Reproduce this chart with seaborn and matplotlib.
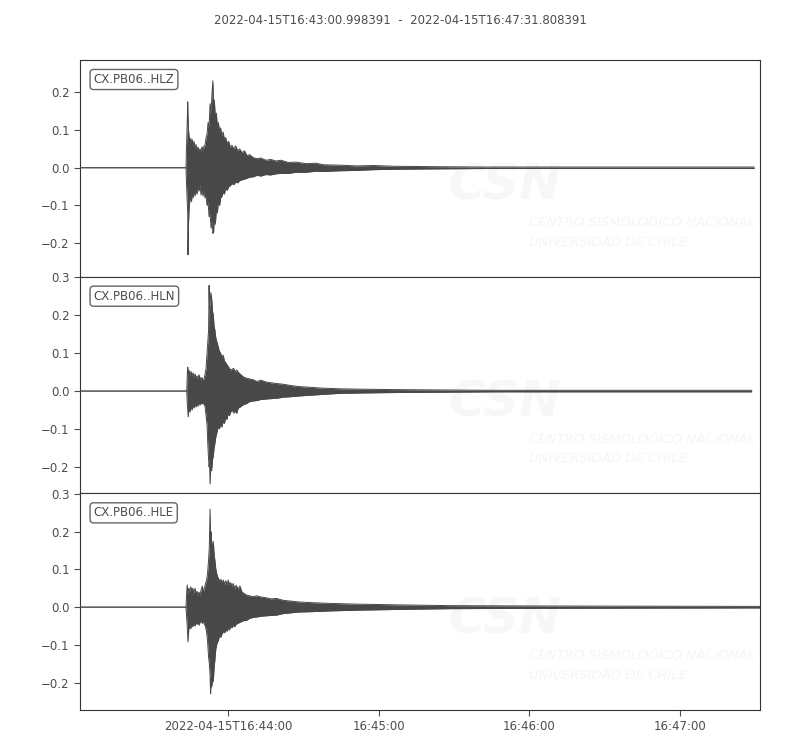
import pandas as pd
import matplotlib
matplotlib.use("Agg")
import matplotlib.pyplot as plt
import matplotlib.dates as mdates
from matplotlib.ticker import MultipleLocator, FuncFormatter
import seaborn as sns

# time window of the record
start_time = "2022-04-15T16:43:00.998391"
end_time = "2022-04-15T16:47:31.808391"
channels = ["CX.PB06..HLZ", "CX.PB06..HLN", "CX.PB06..HLE"]

# envelope of each trace: seconds after start, upper / lower amplitude
hlz_t = [0, 42.2, 42.4, 42.7, 42.9, 43.0, 43.2, 43.5, 43.8, 44.1, 44.4, 44.7, 45.0, 45.4,
         45.8, 46.2, 46.6, 47.0, 47.4, 47.8, 48.2, 48.6, 49.0, 49.4, 49.8, 50.2, 50.6, 51.0,
         51.4, 51.8, 52.2, 52.6, 52.9, 53.2, 53.5, 53.9, 54.3, 54.7, 55.1, 55.6, 56.0, 56.5,
         57.0, 57.5, 58.0, 58.6, 59.2, 59.8, 60.5, 61.2, 62.0, 62.8, 63.6, 64.5, 65.5, 66.5,
         67.5, 69, 70.5, 72, 74, 76, 78, 80, 83, 86, 90, 94, 97, 103, 110, 117, 125, 140,
         160, 268.5]
hlz_up = [0, 0, 0.05, 0.12, 0.175, 0.14, 0.10, 0.08, 0.065, 0.078, 0.06, 0.075, 0.058, 0.07,
          0.05, 0.062, 0.045, 0.055, 0.045, 0.05, 0.042, 0.056, 0.045, 0.058, 0.06, 0.08, 0.09, 0.12,
          0.11, 0.17, 0.15, 0.20, 0.231, 0.16, 0.18, 0.13, 0.145, 0.11, 0.12, 0.095, 0.106, 0.085,
          0.095, 0.075, 0.08, 0.065, 0.07, 0.055, 0.06, 0.05, 0.058, 0.045, 0.05, 0.04, 0.045, 0.032,
          0.035, 0.027, 0.024, 0.026, 0.02, 0.022, 0.018, 0.02, 0.014, 0.015, 0.011, 0.012, 0.008,
          0.007, 0.005, 0.006, 0.004, 0.003, 0.002, 0.002]
hlz_lo = [0, 0, -0.04, -0.09, -0.12, -0.231, -0.15, -0.10, -0.085, -0.07, -0.09, -0.065, -0.08, -0.06,
          -0.075, -0.058, -0.07, -0.05, -0.062, -0.045, -0.072, -0.055, -0.075, -0.06, -0.08, -0.075, -0.10, -0.09,
          -0.13, -0.12, -0.16, -0.14, -0.174, -0.17, -0.13, -0.15, -0.11, -0.12, -0.09, -0.10, -0.08, -0.076,
          -0.065, -0.07, -0.055, -0.06, -0.05, -0.048, -0.042, -0.045, -0.038, -0.04, -0.034, -0.032, -0.03, -0.028,
          -0.025, -0.024, -0.02, -0.022, -0.018, -0.019, -0.016, -0.015, -0.015, -0.012, -0.012, -0.009, -0.01,
          -0.008, -0.007, -0.005, -0.004, -0.003, -0.002, -0.002]

hln_t = [0, 42.5, 42.7, 42.9, 43.1, 43.4, 43.8, 44.2, 44.6, 45.0, 45.4, 45.8, 46.2, 46.6,
         47.0, 47.4, 47.8, 48.2, 48.6, 49.0, 49.4, 49.8, 50.2, 50.6, 50.9, 51.2, 51.4, 51.6,
         51.8, 52.1, 52.4, 52.8, 53.1, 53.4, 53.7, 54.1, 54.5, 55.0, 55.5, 56.0, 56.5, 57.0,
         57.5, 58.0, 58.5, 59.0, 59.5, 60.0, 60.6, 61.2, 61.8, 62.4, 63.0, 63.8, 64.6, 65.4,
         66.3, 67.5, 69, 70.5, 72, 74, 76, 78.3, 81, 83.6, 87, 91.6, 96, 103.5, 112, 123.4,
         143.3, 165, 267.5]
hln_up = [0, 0, 0.04, 0.063, 0.045, 0.055, 0.04, 0.052, 0.042, 0.048, 0.036, 0.045, 0.034, 0.04,
          0.032, 0.043, 0.035, 0.03, 0.036, 0.028, 0.032, 0.045, 0.06, 0.10, 0.13, 0.16, 0.279, 0.22,
          0.23, 0.26, 0.247, 0.21, 0.20, 0.17, 0.162, 0.14, 0.13, 0.118, 0.105, 0.10, 0.09, 0.095,
          0.08, 0.075, 0.07, 0.065, 0.06, 0.055, 0.058, 0.06, 0.05, 0.056, 0.05, 0.045, 0.04, 0.036,
          0.034, 0.032, 0.03, 0.025, 0.029, 0.024, 0.022, 0.02, 0.018, 0.015, 0.012, 0.01, 0.008, 0.006,
          0.005, 0.004, 0.003, 0.002, 0.002]
hln_lo = [0, 0, -0.03, -0.05, -0.068, -0.045, -0.055, -0.04, -0.05, -0.038, -0.045, -0.035, -0.042, -0.033,
          -0.04, -0.03, -0.037, -0.03, -0.034, -0.03, -0.035, -0.04, -0.065, -0.09, -0.14, -0.18, -0.20, -0.19,
          -0.245, -0.20, -0.21, -0.18, -0.17, -0.15, -0.139, -0.12, -0.11, -0.095, -0.10, -0.088, -0.095, -0.08,
          -0.086, -0.07, -0.075, -0.06, -0.065, -0.055, -0.05, -0.058, -0.052, -0.059, -0.045, -0.042, -0.038, -0.035,
          -0.033, -0.028, -0.026, -0.025, -0.022, -0.021, -0.02, -0.019, -0.016, -0.015, -0.013, -0.011, -0.009, -0.006,
          -0.005, -0.004, -0.003, -0.002, -0.002]

hle_t = [0, 42.2, 42.5, 42.7, 43.0, 43.3, 43.7, 44.1, 44.5, 44.9, 45.3, 45.8, 46.2, 46.6,
         47.0, 47.4, 47.8, 48.2, 48.7, 49.1, 49.5, 49.9, 50.4, 50.8, 51.2, 51.5, 51.8, 52.0,
         52.2, 52.4, 52.7, 53.1, 53.4, 53.7, 54.1, 54.6, 55.1, 55.6, 56.1, 56.6, 57.1, 57.6,
         58.1, 58.6, 59.0, 59.5, 60.0, 60.5, 61.0, 61.6, 62.2, 62.9, 63.7, 64.5, 65.4, 66.3,
         67.5, 69, 70.5, 72, 74, 76, 78.3, 81, 84, 86.9, 92, 99.5, 110, 127.4, 147.3, 187, 270.81]
hle_up = [0, 0, 0.04, 0.059, 0.035, 0.05, 0.042, 0.054, 0.045, 0.05, 0.038, 0.05, 0.036, 0.042,
          0.032, 0.04, 0.032, 0.045, 0.056, 0.04, 0.05, 0.06, 0.072, 0.09, 0.125, 0.16, 0.26, 0.18,
          0.20, 0.178, 0.15, 0.174, 0.14, 0.125, 0.10, 0.085, 0.076, 0.07, 0.074, 0.065, 0.072, 0.06,
          0.07, 0.058, 0.072, 0.06, 0.065, 0.055, 0.063, 0.05, 0.058, 0.048, 0.056, 0.04, 0.036, 0.032,
          0.03, 0.028, 0.03, 0.027, 0.025, 0.022, 0.023, 0.018, 0.016, 0.014, 0.012, 0.01, 0.008, 0.006,
          0.004, 0.003, 0.002]
hle_lo = [0, 0, -0.03, -0.05, -0.092, -0.06, -0.05, -0.057, -0.045, -0.052, -0.044, -0.05, -0.04, -0.046,
          -0.038, -0.048, -0.04, -0.036, -0.043, -0.038, -0.045, -0.05, -0.066, -0.09, -0.132, -0.15, -0.18, -0.23,
          -0.19, -0.212, -0.20, -0.194, -0.16, -0.141, -0.11, -0.095, -0.088, -0.075, -0.08, -0.07, -0.065, -0.068,
          -0.06, -0.064, -0.055, -0.061, -0.05, -0.055, -0.048, -0.052, -0.045, -0.043, -0.04, -0.038, -0.035, -0.035,
          -0.03, -0.027, -0.026, -0.024, -0.023, -0.022, -0.021, -0.017, -0.015, -0.013, -0.012, -0.01, -0.008, -0.006,
          -0.004, -0.003, -0.002]

ylims = [(-0.289, 0.286), (-0.270, 0.302), (-0.273, 0.302)]

traces = [(hlz_t, hlz_up, hlz_lo), (hln_t, hln_up, hln_lo), (hle_t, hle_up, hle_lo)]

sns.set_style("ticks")
plt.rcParams['font.family'] = ['DejaVu Sans']
text_col = "#4d4d4d"
wave_col = "#484848"

t0 = pd.Timestamp(start_time)
t1 = pd.Timestamp(end_time)

fig, axes = plt.subplots(3, 1, figsize=(8, 7.5), dpi=100, sharex=True)
fig.subplots_adjust(left=0.1, right=0.95, top=0.92, bottom=0.0533, hspace=0)

for ax, name, (tt, up, lo), yl in zip(axes, channels, traces, ylims):
    df = pd.DataFrame({"time": t0 + pd.to_timedelta(tt, unit="s"), "upper": up, "lower": lo})

    # faint CSN watermark
    ax.text(0.625, 0.42, "CSN", transform=ax.transAxes, fontsize=36, fontweight="bold",
            fontstyle="italic", color="#f7f7f7", ha="center", va="center", zorder=0)
    ax.text(0.66, 0.25, "CENTRO SISMOLÓGICO NACIONAL", transform=ax.transAxes, fontsize=9.5,
            fontstyle="italic", color="#f5f5f5", ha="left", va="center", zorder=0)
    ax.text(0.66, 0.16, "UNIVERSIDAD DE CHILE", transform=ax.transAxes, fontsize=9.5,
            fontstyle="italic", color="#f5f5f5", ha="left", va="center", zorder=0)

    ax.fill_between(df["time"], df["lower"], df["upper"], color=wave_col, linewidth=0, zorder=2)
    sns.lineplot(data=df, x="time", y="upper", ax=ax, color=wave_col, linewidth=0.7, zorder=3)
    sns.lineplot(data=df, x="time", y="lower", ax=ax, color=wave_col, linewidth=0.7, zorder=3)

    ax.set_ylim(*yl)
    ax.set_xlim(t0, t1)
    ax.set_xlabel("")
    ax.set_ylabel("")
    ax.yaxis.set_major_locator(MultipleLocator(0.1))
    ax.tick_params(colors=text_col, labelsize=8.5, length=4, width=0.8)
    for sp in ax.spines.values():
        sp.set_color("#333333")
        sp.set_linewidth(0.8)

    ax.text(0.02, 0.94, name, transform=ax.transAxes, fontsize=8.5, color=text_col,
            ha="left", va="top",
            bbox=dict(boxstyle="round,pad=0.3", facecolor="white", edgecolor="#666666", linewidth=1))

for ax in axes[:-1]:
    ax.tick_params(axis="x", bottom=False, labelbottom=False)

first_tick = mdates.date2num(pd.Timestamp("2022-04-15T16:44:00"))

def time_label(x, pos):
    d = mdates.num2date(x)
    if abs(x - first_tick) < 1e-7:
        return d.strftime("%Y-%m-%dT%H:%M:%S")
    return d.strftime("%H:%M:%S")

axes[-1].xaxis.set_major_locator(mdates.MinuteLocator())
axes[-1].xaxis.set_major_formatter(FuncFormatter(time_label))

fig.suptitle(f"{start_time}  -  {end_time}", y=0.982, fontsize=8.5, color=text_col)

plt.savefig("out.png", dpi=100)
